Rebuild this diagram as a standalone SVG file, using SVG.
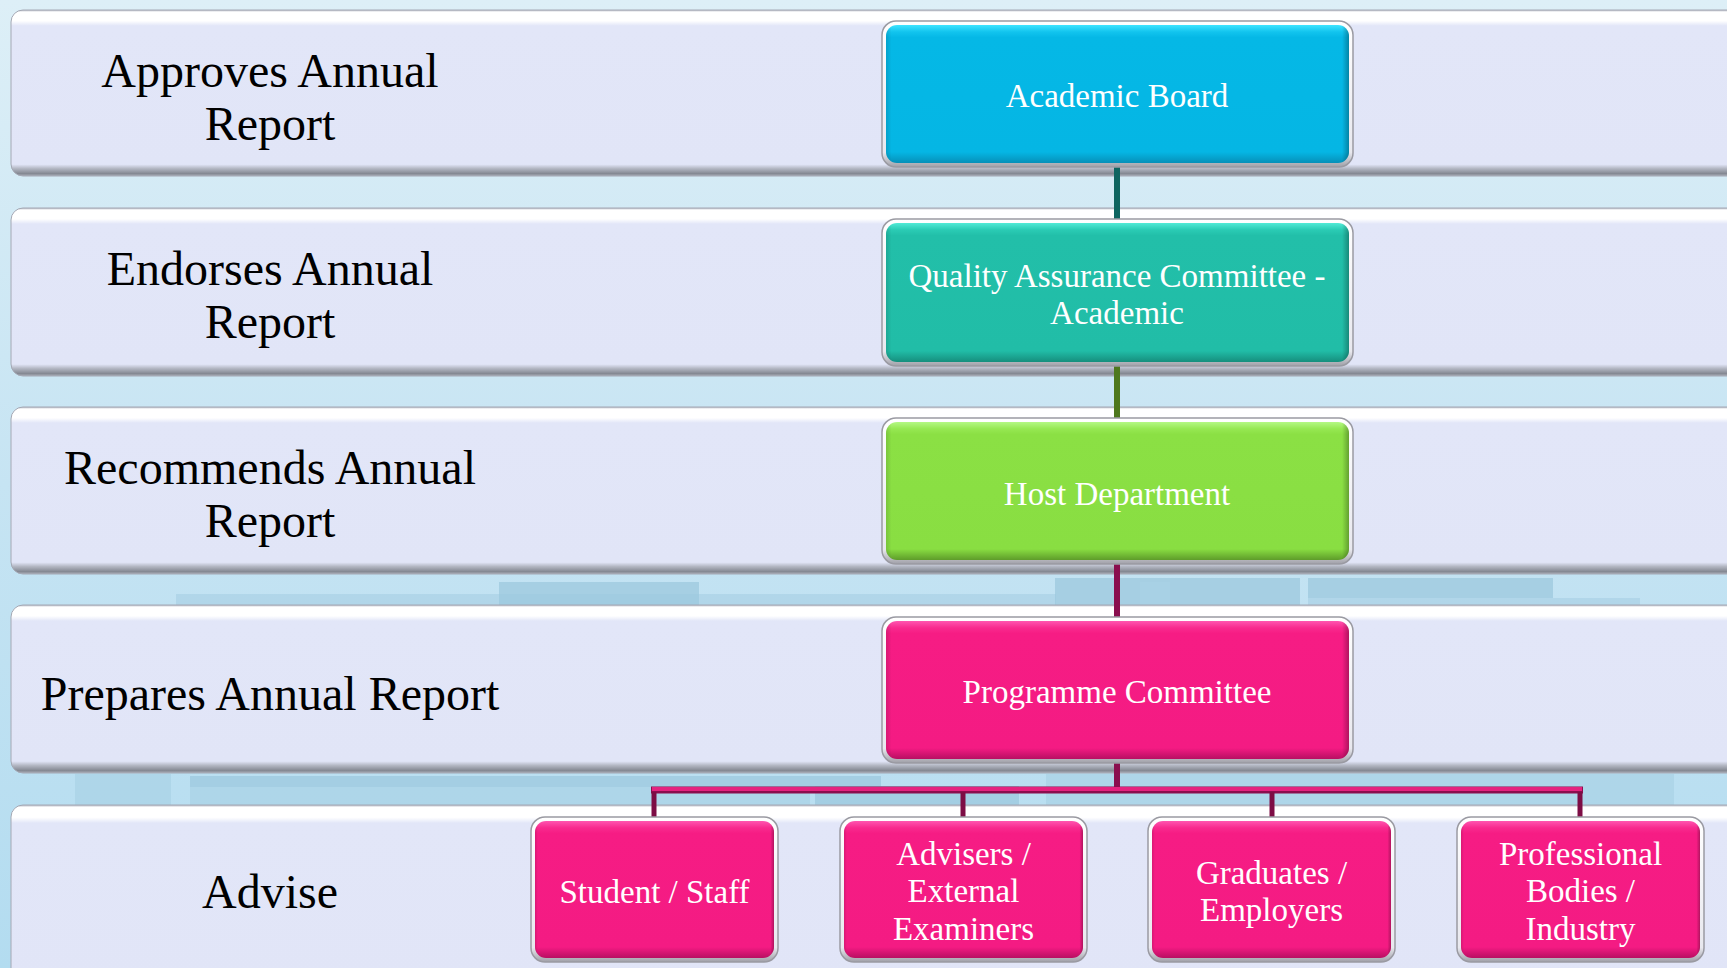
<svg xmlns="http://www.w3.org/2000/svg" width="1727" height="968" viewBox="0 0 1727 968">
<defs>
<linearGradient id="bg" x1="0" y1="0" x2="0" y2="1">
<stop offset="0" stop-color="#DDEFF7"/>
<stop offset="0.5" stop-color="#C6E4F3"/>
<stop offset="1" stop-color="#B3DCF0"/>
</linearGradient>
<linearGradient id="band" x1="0" y1="0" x2="0" y2="1">
<stop offset="0" stop-color="#B4B8C4"/>
<stop offset="0.012" stop-color="#FFFFFF"/>
<stop offset="0.065" stop-color="#FFFFFF"/>
<stop offset="0.095" stop-color="#E2E6F8"/>
<stop offset="0.93" stop-color="#E1E5F7"/>
<stop offset="0.955" stop-color="#B3B7C3"/>
<stop offset="0.985" stop-color="#858993"/>
<stop offset="1" stop-color="#A8ACB6"/>
</linearGradient>
<linearGradient id="bez" x1="0" y1="0" x2="0" y2="1">
<stop offset="0" stop-color="#FFFFFF"/>
<stop offset="0.9" stop-color="#E8E8EE"/>
<stop offset="1" stop-color="#A0A0A8"/>
</linearGradient>
<linearGradient id="gCyan" x1="0" y1="0" x2="0" y2="1">
<stop offset="0" stop-color="#3FE4FF"/>
<stop offset="0.05" stop-color="#12C4EE"/>
<stop offset="0.09" stop-color="#05B8E6"/>
<stop offset="0.92" stop-color="#05B6E4"/>
<stop offset="1" stop-color="#0690B8"/>
</linearGradient>
<linearGradient id="gTeal" x1="0" y1="0" x2="0" y2="1">
<stop offset="0" stop-color="#52EAD6"/>
<stop offset="0.05" stop-color="#2ACBB4"/>
<stop offset="0.09" stop-color="#22BFA9"/>
<stop offset="0.92" stop-color="#21BDA7"/>
<stop offset="1" stop-color="#168E7D"/>
</linearGradient>
<linearGradient id="gGreen" x1="0" y1="0" x2="0" y2="1">
<stop offset="0" stop-color="#B4F884"/>
<stop offset="0.05" stop-color="#96E852"/>
<stop offset="0.09" stop-color="#8BE044"/>
<stop offset="0.92" stop-color="#89DE42"/>
<stop offset="1" stop-color="#5E9C2A"/>
</linearGradient>
<linearGradient id="gPink" x1="0" y1="0" x2="0" y2="1">
<stop offset="0" stop-color="#FF55B0"/>
<stop offset="0.05" stop-color="#F82A8E"/>
<stop offset="0.09" stop-color="#F61C84"/>
<stop offset="0.92" stop-color="#F41B83"/>
<stop offset="1" stop-color="#B80F62"/>
</linearGradient>
<linearGradient id="shadeR" x1="0" y1="0" x2="1" y2="0">
<stop offset="0" stop-color="#000" stop-opacity="0.12"/>
<stop offset="0.012" stop-color="#000" stop-opacity="0"/>
<stop offset="0.985" stop-color="#000" stop-opacity="0"/>
<stop offset="1" stop-color="#000" stop-opacity="0.28"/>
</linearGradient>
</defs>
<style>
.band{fill:url(#band);stroke:#A4A8B4;stroke-width:1}
.lbl{font-family:"Liberation Serif","Times New Roman",serif;font-size:48px;fill:#000;text-anchor:middle}
.ntx{font-family:"Liberation Serif","Times New Roman",serif;font-size:33px;fill:#FFFFFF;text-anchor:middle}
.bez{fill:url(#bez);stroke:#9A9AA2;stroke-width:1.5}
.shade{fill:url(#shadeR)}
.deco{fill:#9CC8DE;opacity:0.75}
.deco2{fill:#A9D2E6;opacity:0.7}
.conn{fill:none;stroke-width:6}
</style>

<rect x="0" y="0" width="1727" height="968" fill="url(#bg)"/>

<g id="background-decor">
<rect class="deco2" x="176" y="594" width="880" height="12"/>
<rect class="deco" x="499" y="582" width="200" height="24"/>
<rect class="deco" x="1055" y="578" width="245" height="28"/>
<rect class="deco2" x="1140" y="582" width="30" height="24"/>
<rect class="deco" x="1308" y="578" width="245" height="20"/>
<rect class="deco2" x="1308" y="598" width="332" height="8"/>
<rect class="deco2" x="75" y="774" width="96" height="31"/>
<rect class="deco" x="190" y="776" width="691" height="11"/>
<rect class="deco2" x="190" y="787" width="620" height="18"/>
<rect class="deco" x="815" y="786" width="204" height="19"/>
<rect class="deco2" x="1046" y="774" width="628" height="31"/>
</g>

<g id="bands">
<rect class="band" x="11" y="10" width="1740" height="166" rx="12"/>
<rect class="band" x="11" y="208" width="1740" height="168" rx="12"/>
<rect class="band" x="11" y="407" width="1740" height="167" rx="12"/>
<rect class="band" x="11" y="605" width="1740" height="168" rx="12"/>
<rect class="band" x="11" y="805" width="1740" height="190" rx="12"/>
</g>

<g id="labels">
<text class="lbl" x="270" y="87">Approves Annual</text>
<text class="lbl" x="270" y="140">Report</text>
<text class="lbl" x="270" y="285">Endorses Annual</text>
<text class="lbl" x="270" y="338">Report</text>
<text class="lbl" x="270" y="484">Recommends Annual</text>
<text class="lbl" x="270" y="537">Report</text>
<text class="lbl" x="270" y="710">Prepares Annual Report</text>
<text class="lbl" x="270" y="908">Advise</text>
</g>

<g id="connectors">
<line class="conn" x1="1117" y1="166" x2="1117" y2="221" stroke="#0E6560"/>
<line class="conn" x1="1117" y1="364" x2="1117" y2="419" stroke="#4E781D"/>
<line class="conn" x1="1117" y1="563" x2="1117" y2="618" stroke="#8A0E4E"/>
<line class="conn" x1="1117" y1="762" x2="1117" y2="791" stroke="#8A0E4E"/>
<line x1="651" y1="790" x2="1583" y2="790" stroke="#8A0E4E" stroke-width="7"/>
<line x1="652" y1="789" x2="1582" y2="789" stroke="#E4237F" stroke-width="4"/>
<line x1="654" y1="792" x2="654" y2="818" stroke="#7D0D45" stroke-width="5"/>
<line x1="963" y1="792" x2="963" y2="818" stroke="#7D0D45" stroke-width="5"/>
<line x1="1272" y1="792" x2="1272" y2="818" stroke="#7D0D45" stroke-width="5"/>
<line x1="1580" y1="792" x2="1580" y2="818" stroke="#7D0D45" stroke-width="5"/>
</g>

<g id="node-academic-board">
<rect class="bez" x="882" y="21" width="471" height="146" rx="14"/>
<rect x="886" y="25" width="463" height="138" rx="11" fill="url(#gCyan)"/>
<rect class="shade" x="886" y="25" width="463" height="138" rx="11"/>
<text class="ntx" x="1117" y="107">Academic Board</text>
</g>

<g id="node-qac">
<rect class="bez" x="882" y="219" width="471" height="147" rx="14"/>
<rect x="886" y="223" width="463" height="139" rx="11" fill="url(#gTeal)"/>
<rect class="shade" x="886" y="223" width="463" height="139" rx="11"/>
<text class="ntx" x="1117" y="287">Quality Assurance Committee -</text>
<text class="ntx" x="1117" y="324">Academic</text>
</g>

<g id="node-host-department">
<rect class="bez" x="882" y="418" width="471" height="146" rx="14"/>
<rect x="886" y="422" width="463" height="138" rx="11" fill="url(#gGreen)"/>
<rect class="shade" x="886" y="422" width="463" height="138" rx="11"/>
<text class="ntx" x="1117" y="505">Host Department</text>
</g>

<g id="node-programme-committee">
<rect class="bez" x="882" y="617" width="471" height="146" rx="14"/>
<rect x="886" y="621" width="463" height="138" rx="11" fill="url(#gPink)"/>
<rect class="shade" x="886" y="621" width="463" height="138" rx="11"/>
<text class="ntx" x="1117" y="703">Programme Committee</text>
</g>

<g id="node-student-staff">
<rect class="bez" x="531" y="817" width="247" height="145" rx="14"/>
<rect x="535" y="821" width="239" height="137" rx="11" fill="url(#gPink)"/>
<rect class="shade" x="535" y="821" width="239" height="137" rx="11"/>
<text class="ntx" x="654.5" y="903">Student / Staff</text>
</g>

<g id="node-advisers">
<rect class="bez" x="840" y="817" width="247" height="145" rx="14"/>
<rect x="844" y="821" width="239" height="137" rx="11" fill="url(#gPink)"/>
<rect class="shade" x="844" y="821" width="239" height="137" rx="11"/>
<text class="ntx" x="963.5" y="865">Advisers /</text>
<text class="ntx" x="963.5" y="902">External</text>
<text class="ntx" x="963.5" y="940">Examiners</text>
</g>

<g id="node-graduates">
<rect class="bez" x="1148" y="817" width="247" height="145" rx="14"/>
<rect x="1152" y="821" width="239" height="137" rx="11" fill="url(#gPink)"/>
<rect class="shade" x="1152" y="821" width="239" height="137" rx="11"/>
<text class="ntx" x="1271.5" y="884">Graduates /</text>
<text class="ntx" x="1271.5" y="921">Employers</text>
</g>

<g id="node-professional">
<rect class="bez" x="1457" y="817" width="247" height="145" rx="14"/>
<rect x="1461" y="821" width="239" height="137" rx="11" fill="url(#gPink)"/>
<rect class="shade" x="1461" y="821" width="239" height="137" rx="11"/>
<text class="ntx" x="1580.5" y="865">Professional</text>
<text class="ntx" x="1580.5" y="902">Bodies /</text>
<text class="ntx" x="1580.5" y="940">Industry</text>
</g>
</svg>
